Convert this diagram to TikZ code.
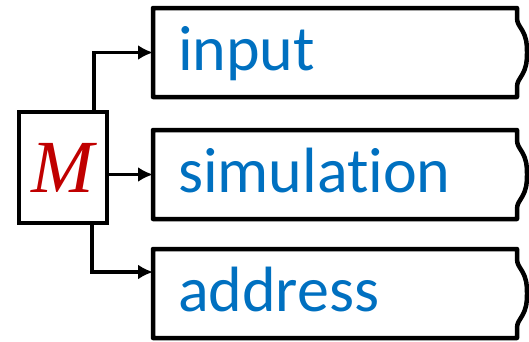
\documentclass[tikz,border=0pt]{standalone}
\usepackage{fontspec}
\setmainfont{Carlito}[Ligatures=NoCommon]
\newfontfamily\symfont{Liberation Serif}
\usetikzlibrary{arrows.meta, positioning}

\definecolor{fieldblue}{HTML}{0070C0}
\definecolor{mred}{HTML}{C00000}

\begin{document}
\begin{tikzpicture}[x=1pt,y=-1pt,->,>={Latex[length=15pt,width=15pt]},line width=3.8pt]

	\tikzset{mbox/.style={rectangle, draw, line width=4.5pt, outer sep=0pt,
			minimum width=88pt, minimum height=111pt,
			font=\symfont\itshape\fontsize{75}{75}\selectfont, text=mred},
		field/.style={rectangle, draw=none, outer sep=0pt,
			inner xsep=25pt, inner ysep=0pt, text width=314pt, align=left,
			minimum height=89pt, text height=46pt, text depth=10pt,
			font=\fontsize{64}{64}\selectfont, text=fieldblue}}

	\useasboundingbox (0,0) rectangle (529,341);

	\node[mbox] (M) at (63,167.5) {M};
	\node[field, anchor=west] (sim) at (153,174.5) {simulation};
	\node[field, above=33pt of sim] (inp) {input};
	\node[field, below=30pt of sim] (addr) {address};

	% outline with the curly right side
	\foreach \f in {inp, sim, addr}
	\draw[-, line width=4.5pt, line join=round]
	(\f.north west) -- (\f.north east) -- ++(0,10)
	to[out=-90,in=120] ++(5,12) to[out=-60,in=90] ++(5,22.5)
	to[out=-90,in=60] ++(-5,22.5) to[out=-120,in=90] ++(-5,12)
	-- (\f.south east) -- (\f.south west) -- cycle;

	\draw (M.east |- sim.west) -- (sim.west);
	\draw ([xshift=31pt]M.north) |- (inp.west);
	\draw ([xshift=29pt]M.south) |- ([yshift=21.5pt]addr.west);

\end{tikzpicture}
\end{document}
